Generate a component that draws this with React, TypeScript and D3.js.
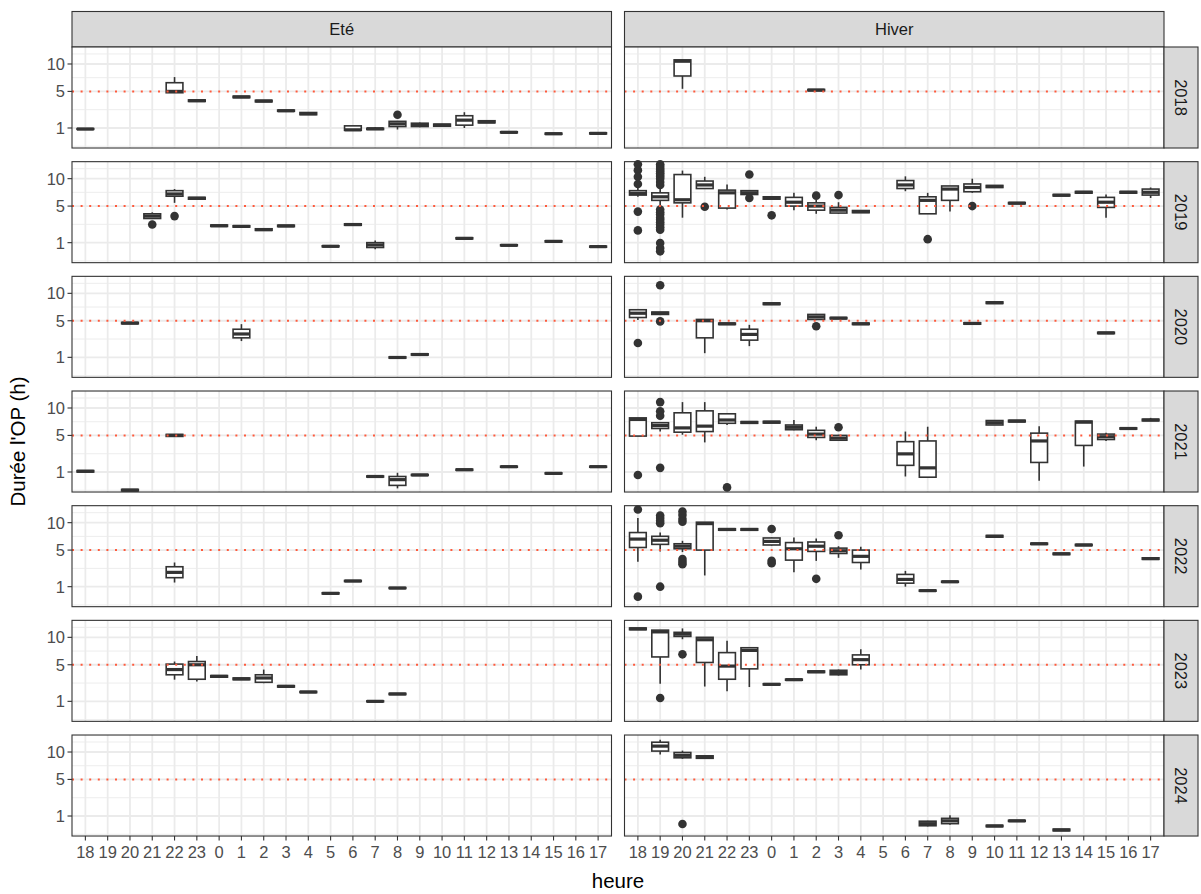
import React from 'react';
import * as d3 from 'd3';

const hours = ['18','19','20','21','22','23','0','1','2','3','4','5','6','7','8','9','10','11','12','13','14','15','16','17'];
const seasons = ['Eté', 'Hiver'];
const years = ['2018', '2019', '2020', '2021', '2022', '2023', '2024'];
const yTicks = [1, 5, 10];
const yMinor = [0.146, 2.618, 7.285, 12.25];
const threshold = 5;

// [hour, lower whisker, q1, median, q3, upper whisker, outliers]
type Box = [string, number, number, number, number, number, number[]?];

const ete2018: Box[] = [
  ['18', 0.91, 0.91, 0.93, 0.96, 0.96], ['22', 4.8, 4.8, 5.0, 6.4, 7.4], ['23', 3.6, 3.6, 3.7, 3.8, 3.8],
  ['1', 4.1, 4.1, 4.2, 4.3, 4.3], ['2', 3.55, 3.55, 3.65, 3.75, 3.75], ['3', 2.45, 2.45, 2.5, 2.58, 2.58],
  ['4', 2.1, 2.1, 2.2, 2.32, 2.32], ['6', 0.8, 0.85, 0.88, 1.15, 1.15], ['7', 0.88, 0.9, 0.95, 0.98, 1.05],
  ['8', 0.9, 1.1, 1.3, 1.5, 1.5, [2.1]], ['9', 1.05, 1.1, 1.2, 1.35, 1.4], ['10', 1.12, 1.12, 1.2, 1.28, 1.28],
  ['11', 1.0, 1.2, 1.6, 2.0, 2.35], ['12', 1.38, 1.38, 1.45, 1.55, 1.55], ['13', 0.7, 0.7, 0.73, 0.76, 0.76],
  ['15', 0.62, 0.62, 0.65, 0.68, 0.68], ['17', 0.64, 0.64, 0.67, 0.7, 0.7],
];
const hiver2018: Box[] = [
  ['20', 5.4, 7.6, 10.6, 10.9, 10.9], ['2', 5.1, 5.1, 5.2, 5.3, 5.3],
];
const ete2019: Box[] = [
  ['21', 3.3, 3.3, 3.6, 3.9, 4.1, [2.6]], ['22', 5.5, 6.6, 7.0, 7.6, 7.9, [3.6]], ['23', 6.1, 6.1, 6.25, 6.4, 6.4],
  ['0', 2.4, 2.4, 2.47, 2.55, 2.55], ['1', 2.33, 2.33, 2.4, 2.47, 2.47], ['2', 2.0, 2.0, 2.08, 2.16, 2.16],
  ['3', 2.38, 2.38, 2.45, 2.53, 2.53], ['5', 0.74, 0.74, 0.77, 0.8, 0.8], ['6', 2.52, 2.52, 2.6, 2.68, 2.68],
  ['7', 0.6, 0.7, 0.85, 1.0, 1.15], ['11', 1.27, 1.27, 1.31, 1.36, 1.36], ['13', 0.8, 0.8, 0.83, 0.86, 0.86],
  ['15', 1.05, 1.05, 1.09, 1.13, 1.13], ['17', 0.72, 0.72, 0.75, 0.78, 0.78],
];
const hiver2019: Box[] = [
  ['18', 6.5, 6.8, 7.1, 7.6, 8.2, [13.3, 11.9, 10.4, 8.9, 4.2, 2.0]],
  ['19', 5.0, 5.9, 6.5, 7.2, 8.0, [13.3, 12.9, 12.4, 12.0, 11.6, 11.2, 10.8, 10.4, 10.0, 9.3, 8.7, 4.5, 4.1, 3.8, 3.4, 3.15, 2.85, 2.6, 2.3, 2.07, 0.98, 0.67, 0.5]],
  ['20', 3.4, 5.5, 6.0, 10.9, 11.8], ['21', 8.0, 8.0, 8.7, 9.5, 10.4, [4.9]], ['22', 4.5, 4.7, 7.2, 7.7, 8.8],
  ['23', 6.8, 6.9, 7.2, 7.6, 7.7, [10.9, 6.3]], ['0', 6.1, 6.1, 6.3, 6.5, 6.5, [3.7]], ['1', 4.4, 5.0, 5.6, 6.4, 7.2],
  ['2', 3.9, 4.4, 5.0, 5.5, 6.0, [6.7]], ['3', 3.9, 4.0, 4.4, 4.8, 5.6, [6.8]], ['4', 4.05, 4.05, 4.2, 4.35, 4.35],
  ['6', 7.5, 8.0, 8.7, 9.6, 10.5], ['7', 3.9, 3.9, 5.9, 6.5, 7.2, [1.25]], ['8', 4.2, 5.9, 7.9, 8.5, 8.5],
  ['9', 7.2, 7.4, 8.2, 8.9, 10.0, [5.0]], ['10', 8.2, 8.2, 8.4, 8.6, 8.6], ['11', 5.35, 5.35, 5.45, 5.55, 5.55],
  ['13', 6.65, 6.65, 6.77, 6.9, 6.9], ['14', 7.15, 7.15, 7.3, 7.45, 7.45], ['15', 3.4, 4.8, 5.6, 6.4, 6.9],
  ['16', 7.15, 7.15, 7.3, 7.45, 7.45], ['17', 6.3, 6.8, 7.3, 7.9, 8.2],
];
const ete2020: Box[] = [
  ['20', 4.55, 4.55, 4.65, 4.75, 4.75], ['1', 2.4, 2.75, 3.2, 3.8, 4.5],
  ['8', 0.95, 0.95, 0.99, 1.03, 1.03], ['9', 1.16, 1.16, 1.2, 1.25, 1.25],
];
const hiver2020: Box[] = [
  ['18', 5.1, 5.5, 6.2, 6.8, 6.8, [2.2]], ['19', 6.0, 6.0, 6.2, 6.4, 6.4, [11.8, 4.9]], ['21', 1.3, 2.75, 5.0, 5.2, 5.2],
  ['22', 4.45, 4.45, 4.55, 4.65, 4.65], ['23', 1.9, 2.5, 3.15, 3.8, 4.4], ['0', 7.75, 7.75, 7.9, 8.05, 8.05],
  ['2', 5.1, 5.2, 5.6, 6.0, 6.0, [4.2]], ['3', 5.3, 5.3, 5.4, 5.5, 5.5], ['4', 4.45, 4.45, 4.55, 4.65, 4.65],
  ['9', 4.5, 4.5, 4.6, 4.7, 4.7], ['10', 7.95, 7.95, 8.1, 8.25, 8.25], ['15', 3.25, 3.25, 3.33, 3.41, 3.41],
];
const ete2021: Box[] = [
  ['18', 1.0, 1.0, 1.05, 1.1, 1.1], ['20', 0.13, 0.13, 0.15, 0.17, 0.17], ['22', 4.85, 4.85, 5.0, 5.15, 5.15],
  ['7', 0.69, 0.69, 0.72, 0.75, 0.75], ['8', 0.2, 0.3, 0.55, 0.72, 0.95], ['9', 0.78, 0.78, 0.81, 0.84, 0.84],
  ['11', 1.12, 1.12, 1.16, 1.2, 1.2], ['13', 1.35, 1.35, 1.39, 1.43, 1.43], ['15', 0.88, 0.88, 0.91, 0.94, 0.94],
  ['17', 1.35, 1.35, 1.39, 1.43, 1.43],
];
const hiver2021: Box[] = [
  ['18', 4.9, 4.9, 7.7, 8.0, 8.0, [0.81]], ['19', 5.6, 6.1, 6.6, 7.1, 7.2, [11.3, 9.3, 8.4, 1.3]],
  ['20', 5.1, 5.5, 6.2, 9.0, 11.3], ['21', 4.0, 5.6, 6.5, 9.4, 11.3], ['22', 6.7, 7.0, 7.6, 8.8, 8.8, [0.23]],
  ['23', 7.0, 7.0, 7.15, 7.3, 7.3], ['0', 7.05, 7.05, 7.2, 7.35, 7.35], ['1', 5.8, 5.9, 6.3, 6.7, 7.6],
  ['2', 4.3, 4.7, 5.2, 5.8, 6.4], ['3', 4.2, 4.3, 4.6, 5.0, 5.1, [6.3]], ['6', 0.72, 1.5, 2.6, 4.1, 5.6],
  ['7', 0.68, 0.68, 1.3, 4.2, 6.4], ['10', 6.7, 6.7, 7.1, 7.5, 7.5], ['11', 7.25, 7.25, 7.4, 7.55, 7.55],
  ['12', 0.5, 1.75, 4.2, 5.35, 6.5], ['14', 1.4, 3.6, 7.2, 7.4, 7.4], ['15', 4.2, 4.4, 4.8, 5.2, 5.4],
  ['16', 6.0, 6.0, 6.1, 6.2, 6.2], ['17', 7.4, 7.45, 7.6, 7.75, 8.0],
];
const ete2022: Box[] = [
  ['22', 1.3, 1.7, 2.2, 2.8, 3.3], ['5', 0.57, 0.57, 0.6, 0.63, 0.63],
  ['6', 1.38, 1.38, 1.42, 1.46, 1.46], ['8', 0.88, 0.88, 0.91, 0.94, 0.94],
];
const hiver2022: Box[] = [
  ['18', 3.4, 5.4, 6.8, 8.0, 11.0, [13.0, 0.44]], ['19', 4.8, 5.9, 6.6, 7.3, 8.0, [11.6, 11.0, 10.4, 9.9, 1.0]],
  ['20', 4.7, 5.2, 5.6, 6.0, 6.5, [12.5, 11.7, 10.8, 10.2, 3.75, 3.4, 3.1]], ['21', 1.9, 5.0, 9.8, 10.1, 10.1],
  ['22', 8.45, 8.45, 8.6, 8.75, 8.75], ['23', 8.45, 8.45, 8.6, 8.75, 8.75], ['0', 5.7, 5.8, 6.4, 7.0, 7.1, [8.7, 3.5, 3.2]],
  ['1', 2.2, 3.6, 5.2, 6.2, 7.1], ['2', 3.5, 4.8, 5.6, 6.3, 6.9, [1.6]], ['3', 3.9, 4.5, 4.9, 5.3, 5.6, [7.5]],
  ['4', 2.5, 3.3, 4.1, 5.0, 5.5], ['6', 1.0, 1.25, 1.55, 2.0, 2.35], ['7', 0.72, 0.72, 0.75, 0.78, 0.78],
  ['8', 1.32, 1.32, 1.36, 1.4, 1.4], ['10', 7.15, 7.15, 7.3, 7.45, 7.45], ['12', 5.9, 5.9, 6.0, 6.1, 6.1],
  ['13', 4.35, 4.35, 4.45, 4.55, 4.55], ['14', 5.7, 5.7, 5.8, 5.9, 5.9], ['17', 3.7, 3.7, 3.8, 3.9, 3.9],
];
const ete2023: Box[] = [
  ['22', 3.0, 3.6, 4.3, 5.1, 5.5], ['23', 2.8, 3.05, 5.0, 5.5, 6.4], ['0', 3.3, 3.3, 3.4, 3.5, 3.5],
  ['1', 3.0, 3.0, 3.1, 3.2, 3.2], ['2', 2.6, 2.7, 3.2, 3.6, 4.3], ['3', 2.2, 2.2, 2.27, 2.34, 2.34],
  ['4', 1.68, 1.68, 1.73, 1.78, 1.78], ['7', 0.97, 0.97, 1.0, 1.03, 1.03], ['8', 1.51, 1.51, 1.56, 1.61, 1.61],
];
const hiver2023: Box[] = [
  ['18', 11.7, 11.7, 11.9, 12.1, 12.1], ['19', 2.55, 6.25, 11.2, 11.6, 11.6, [1.24]],
  ['20', 9.6, 10.2, 10.7, 11.1, 12.0, [6.7]], ['21', 2.25, 5.35, 9.5, 10.0, 10.0], ['22', 1.8, 3.05, 4.8, 7.0, 9.3],
  ['23', 2.2, 4.4, 7.4, 7.9, 7.9], ['0', 2.42, 2.42, 2.48, 2.54, 2.54], ['1', 2.94, 2.94, 3.0, 3.06, 3.06],
  ['2', 3.9, 3.9, 4.0, 4.1, 4.1], ['3', 3.5, 3.6, 3.9, 4.2, 4.3], ['4', 4.3, 5.0, 5.8, 6.6, 7.6],
];
const ete2024: Box[] = [];
const hiver2024: Box[] = [
  ['19', 9.5, 10.2, 11.3, 12.2, 12.8], ['20', 8.6, 8.8, 9.3, 9.9, 10.3, [0.53]], ['21', 8.7, 8.7, 8.9, 9.2, 9.2],
  ['7', 0.42, 0.45, 0.55, 0.68, 0.7], ['8', 0.5, 0.55, 0.7, 0.85, 1.05], ['10', 0.41, 0.41, 0.44, 0.47, 0.47],
  ['11', 0.67, 0.67, 0.7, 0.73, 0.73], ['13', 0.25, 0.25, 0.28, 0.31, 0.31],
];

const panelData: Record<string, Box[][]> = {
  'Eté': [ete2018, ete2019, ete2020, ete2021, ete2022, ete2023, ete2024],
  'Hiver': [hiver2018, hiver2019, hiver2020, hiver2021, hiver2022, hiver2023, hiver2024],
};

const FONT = '"Liberation Sans", Arial, Helvetica, sans-serif';
const colX = [72, 624.5];
const panelW = 539.5;
const panelH = 101;
const rowTop0 = 47;
const rowStep = 114.67;
const stripTop = 11.5;
const stripH = 35.5;
const rStripX = 1164;
const rStripW = 34;
const DARK = '#333333';
const TICK_FS = 16.5;

export default function App() {
  const x = d3.scalePoint<string>().domain(hours).range([0, panelW]).padding(0.6);
  const y = d3.scaleSqrt().domain([0.105, 13.96]).range([panelH, 0]);
  const step = x.step();
  const hw = step * 0.375;
  const lastBottom = rowTop0 + (years.length - 1) * rowStep + panelH;

  return (
    <svg width={1201} height={894} style={{ position: 'absolute', left: 0, top: 0, background: 'white' }} fontFamily={FONT}>
      {seasons.map((s, ci) => (
        <g key={s}>
          <rect x={colX[ci]} y={stripTop} width={panelW} height={stripH} fill="#D9D9D9" stroke={DARK} strokeWidth={1.1} />
          <text x={colX[ci] + panelW / 2} y={stripTop + stripH / 2} dy="0.36em" textAnchor="middle" fontSize={TICK_FS} fill="#1A1A1A">{s}</text>
        </g>
      ))}
      {years.map((yr, ri) => {
        const top = rowTop0 + ri * rowStep;
        return (
          <g key={yr}>
            {seasons.map((s, ci) => {
              const boxes = panelData[s][ri];
              return (
                <g key={s} transform={`translate(${colX[ci]},${top})`}>
                  <rect width={panelW} height={panelH} fill="white" />
                  {yMinor.map(v => (
                    <line key={'mi' + v} x1={0} x2={panelW} y1={y(v)} y2={y(v)} stroke="#EBEBEB" strokeWidth={0.9} />
                  ))}
                  {yTicks.map(v => (
                    <line key={'ma' + v} x1={0} x2={panelW} y1={y(v)} y2={y(v)} stroke="#EBEBEB" strokeWidth={1.8} />
                  ))}
                  {hours.map(h => (
                    <line key={'v' + h} x1={x(h)} x2={x(h)} y1={0} y2={panelH} stroke="#EBEBEB" strokeWidth={1.8} />
                  ))}
                  {boxes.map(b => {
                    const [h, lo, q1, med, q3, hi, outs] = b;
                    const cx = x(h) as number;
                    return (
                      <g key={h}>
                        <line x1={cx} x2={cx} y1={y(hi)} y2={y(q3)} stroke={DARK} strokeWidth={1.6} />
                        <line x1={cx} x2={cx} y1={y(q1)} y2={y(lo)} stroke={DARK} strokeWidth={1.6} />
                        <rect x={cx - hw} y={y(q3)} width={hw * 2} height={Math.max(0, y(q1) - y(q3))} fill="white" stroke={DARK} strokeWidth={1.6} />
                        <line x1={cx - hw} x2={cx + hw} y1={y(med)} y2={y(med)} stroke={DARK} strokeWidth={3.2} />
                        {(outs || []).map((o, i) => (
                          <circle key={i} cx={cx} cy={y(o)} r={4.3} fill={DARK} />
                        ))}
                      </g>
                    );
                  })}
                  <line x1={0} x2={panelW} y1={y(threshold)} y2={y(threshold)} stroke="#FF5A3C" strokeWidth={2} strokeDasharray="2,6.6" />
                  <rect width={panelW} height={panelH} fill="none" stroke={DARK} strokeWidth={1.1} />
                  {ci === 0 && yTicks.map(v => (
                    <g key={'t' + v}>
                      <line x1={-4.5} x2={0} y1={y(v)} y2={y(v)} stroke={DARK} strokeWidth={1.1} />
                      <text x={-7} y={y(v)} dy="0.36em" textAnchor="end" fontSize={TICK_FS} fill="#4D4D4D">{v}</text>
                    </g>
                  ))}
                </g>
              );
            })}
            <rect x={rStripX} y={top} width={rStripW} height={panelH} fill="#D9D9D9" stroke={DARK} strokeWidth={1.1} />
            <text transform={`translate(${rStripX + rStripW / 2},${top + panelH / 2}) rotate(90)`} dy="0.36em" textAnchor="middle" fontSize={TICK_FS} fill="#1A1A1A">{yr}</text>
          </g>
        );
      })}
      {seasons.map((s, ci) => (
        <g key={'ax' + s} transform={`translate(${colX[ci]},${lastBottom})`}>
          {hours.map(h => (
            <g key={h}>
              <line x1={x(h)} x2={x(h)} y1={0} y2={4.5} stroke={DARK} strokeWidth={1.1} />
              <text x={x(h)} y={21.5} textAnchor="middle" fontSize={TICK_FS} fill="#4D4D4D">{h}</text>
            </g>
          ))}
        </g>
      ))}
      <text x={(colX[0] + colX[1] + panelW) / 2} y={888} textAnchor="middle" fontSize={20.5} fill="black">heure</text>
      <text transform={`translate(25,${(rowTop0 + lastBottom) / 2}) rotate(-90)`} textAnchor="middle" fontSize={20.5} fill="black">Durée l'OP (h)</text>
    </svg>
  );
}
